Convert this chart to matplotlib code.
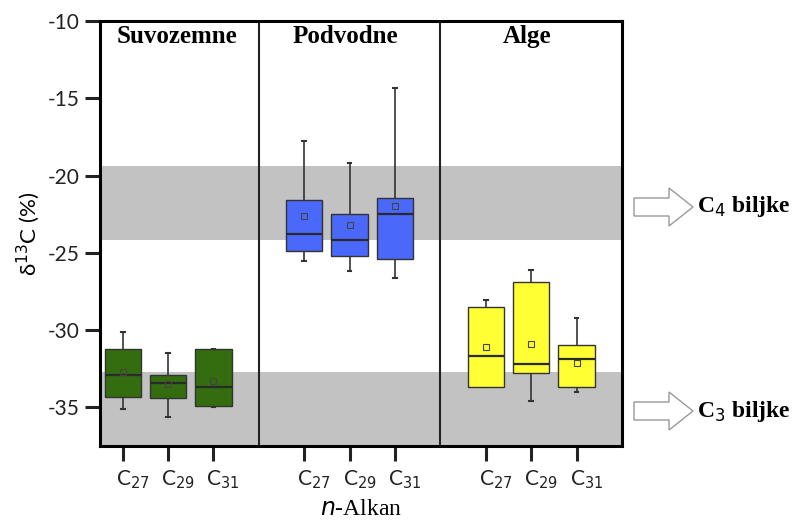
import matplotlib
matplotlib.use("Agg")
import matplotlib.pyplot as plt
from matplotlib.patches import FancyArrow
from matplotlib.transforms import ScaledTranslation

# ---- data ----
groups = ["Suvozemne", "Podvodne", "Alge"]
alkanes = ["C$_{27}$", "C$_{29}$", "C$_{31}$"]
colors = ["#336d10", "#4a68fa", "#ffff33"]

whislo = [-35.1, -35.6, -35.0,   -25.55, -26.2, -26.6,   -33.7, -34.6, -34.0]
q1     = [-34.35, -34.4, -34.9,  -24.9, -25.2, -25.4,    -33.7, -32.75, -33.7]
med    = [-32.9, -33.45, -33.7,  -23.8, -24.15, -22.5,   -31.7, -32.2, -31.9]
mean   = [-32.7, -33.5, -33.3,   -22.6, -23.2, -22.0,    -31.1, -30.9, -32.1]
q3     = [-31.2, -32.9, -31.2,   -21.55, -22.5, -21.45,  -28.5, -26.9, -30.95]
whishi = [-30.1, -31.5, -31.2,   -17.75, -19.2, -14.35,  -28.05, -26.1, -29.2]

c4_band = (-24.2, -19.4)
c3_band = (-37.5, -32.7)
yticks = [-35, -30, -25, -20, -15, -10]

# ---- figure ----
W, H = 794, 521
fig = plt.figure(figsize=(W / 100, H / 100), dpi=100)
ax = fig.add_axes([100 / W, 1 - 446 / H, 522 / W, 425 / H])

ax.set_xlim(0, 11.5)
ax.set_ylim(-37.5, -10)

ax.axhspan(*c4_band, color="#c2c2c2", zorder=0, lw=0)
ax.axhspan(*c3_band, color="#c2c2c2", zorder=0, lw=0)

positions = [0.5, 1.5, 2.5, 4.5, 5.5, 6.5, 8.5, 9.5, 10.5]
stats = []
for i in range(9):
    stats.append(dict(whislo=whislo[i], q1=q1[i], med=med[i], q3=q3[i],
                      whishi=whishi[i], mean=mean[i], fliers=[]))
bp = ax.bxp(stats, positions=positions, widths=0.8, patch_artist=True,
            showmeans=True, capwidths=0.08,
            boxprops=dict(edgecolor="#333333", linewidth=1.0),
            medianprops=dict(color="#2a2a2a", linewidth=1.6),
            whiskerprops=dict(color="#333333", linewidth=1.2),
            capprops=dict(color="#333333", linewidth=1.5),
            meanprops=dict(marker="s", markersize=4, markerfacecolor="none",
                           markeredgecolor="#444444", markeredgewidth=0.8))
for i, box in enumerate(bp["boxes"]):
    box.set_facecolor(colors[i // 3])
    box.set_zorder(3)
for m in bp["medians"]:
    m.set_zorder(4)
for m in bp["means"]:
    m.set_zorder(4)

for xd in (3.5, 7.5):
    ax.axvline(xd, color="#222222", lw=1.5, zorder=4)

for sp in ax.spines.values():
    sp.set_linewidth(2.2)
    sp.set_zorder(5)

ax.set_yticks(yticks)
ax.set_yticklabels([str(v) for v in yticks])
ax.set_xticks(positions)
ax.set_xticklabels(alkanes * 3)
ax.tick_params(axis="both", direction="out", length=11, width=2.2,
               labelsize=15, colors="#222222")
ax.tick_params(axis="x", pad=5)
off = ScaledTranslation(-7 / 100, 0, fig.dpi_scale_trans)
for lab in ax.get_xticklabels():
    lab.set_family("Lato")
    lab.set_ha("left")
    lab.set_transform(lab.get_transform() + off)
for lab in ax.get_yticklabels():
    lab.set_family("Lato")

ax.set_ylabel("δ$^{13}$C (%)", fontsize=16, family="Lato", labelpad=4)
ax.set_xlabel(r"$\it{n}$-Alkan", fontsize=17, family="Liberation Serif", labelpad=6)

title_x = [1.7, 5.4, 9.4]
for g, tx in zip(groups, title_x):
    ax.text(tx, -11.0, g, ha="center", va="center", fontsize=18,
            fontweight="bold", family="Liberation Serif", zorder=6)

# hollow arrows and labels
for yc, lab in ((207, "C$_4$ biljke"), (411, "C$_3$ biljke")):
    ar = FancyArrow(634 / W, 1 - yc / H, 59 / W, 0, width=18 / H,
                    head_width=38 / H, head_length=24 / W,
                    length_includes_head=True, transform=fig.transFigure,
                    facecolor="white", edgecolor="#999999", lw=1.0)
    fig.patches.append(ar)
    fig.text(697 / W, 1 - yc / H, lab, ha="left", va="center", fontsize=17,
             fontweight="bold", family="Liberation Serif")

fig.savefig("out.png", dpi=100)
